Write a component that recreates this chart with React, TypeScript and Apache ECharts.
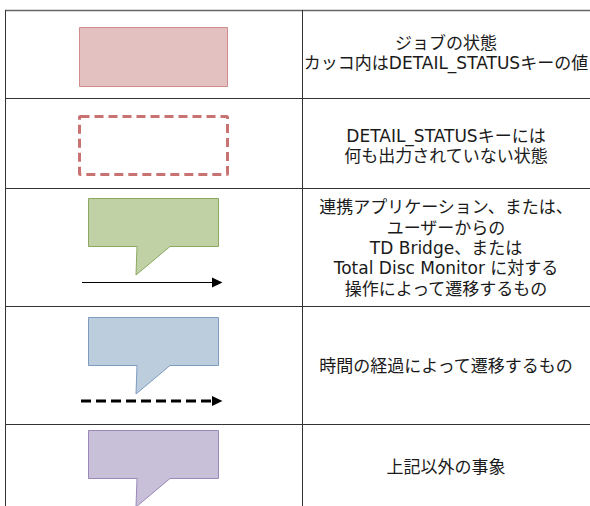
import React, { useEffect, useRef } from "react";
import * as echarts from "echarts";

const descriptions: string[][] = [
  ["ジョブの状態", "カッコ内はDETAIL_STATUSキーの値"],
  ["DETAIL_STATUSキーには", "何も出力されていない状態"],
  [
    "連携アプリケーション、または、",
    "ユーザーからの",
    "TD Bridge、または",
    "Total Disc Monitor に対する",
    "操作によって遷移するもの",
  ],
  ["時間の経過によって遷移するもの"],
  ["上記以外の事象"],
];
const rowLines = [10, 98, 188, 306, 424];
const textCenters = [53, 146, 248, 366, 467];
const calloutFills = ["#c0d1a5", "#bccddd", "#c8bfd8"];
const calloutStrokes = ["#8aa862", "#7d9cc0", "#9a88b8"];
const calloutTops = [198, 317, 430];

const FONT = '"DejaVu Sans", "Noto Sans CJK JP", sans-serif';

export default function App() {
  const ref = useRef<HTMLDivElement>(null);
  useEffect(() => {
    if (!ref.current) return;
    const chart = echarts.init(ref.current, null, { renderer: "svg" });
    const els: any[] = [];
    rowLines.forEach((y, i) => {
      els.push({
        type: "line",
        shape: { x1: 5, y1: y + 0.5, x2: 590, y2: y + 0.5 },
        style: { stroke: i === 0 ? "#666" : "#333", lineWidth: i === 0 ? 1.5 : 1 },
      });
    });
    [5, 302].forEach((x) => {
      els.push({
        type: "line",
        shape: { x1: x + 0.5, y1: 10, x2: x + 0.5, y2: 506 },
        style: { stroke: "#333", lineWidth: 1 },
      });
    });
    els.push({
      type: "rect",
      shape: { x: 79.5, y: 27.5, width: 148, height: 59 },
      style: { fill: "#e4c1c1", stroke: "#d08c8c", lineWidth: 1 },
    });
    els.push({
      type: "rect",
      shape: { x: 79.5, y: 116.5, width: 148, height: 58, r: 1 },
      style: { fill: "none", stroke: "#c87272", lineWidth: 3, lineDash: [9, 5] },
    });
    calloutTops.forEach((t, i) => {
      const b = t + 48;
      els.push({
        type: "polygon",
        shape: {
          points: [
            [88.5, t + 0.5],
            [218.5, t + 0.5],
            [218.5, b + 0.5],
            [170, b + 0.5],
            [136, b + 29],
            [137, b + 0.5],
            [88.5, b + 0.5],
          ],
        },
        style: { fill: calloutFills[i], stroke: calloutStrokes[i], lineWidth: 1 },
      });
    });
    els.push({
      type: "line",
      shape: { x1: 82, y1: 282.5, x2: 213, y2: 282.5 },
      style: { stroke: "#000", lineWidth: 1 },
    });
    els.push({
      type: "polygon",
      shape: { points: [[212, 277.5], [222.5, 282.5], [212, 287.5]] },
      style: { fill: "#000" },
    });
    els.push({
      type: "line",
      shape: { x1: 81, y1: 401, x2: 212, y2: 401 },
      style: { stroke: "#000", lineWidth: 3, lineDash: [10, 5] },
    });
    els.push({
      type: "polygon",
      shape: { points: [[212, 396], [222.5, 401], [212, 406]] },
      style: { fill: "#000" },
    });
    descriptions.forEach((lines, i) => {
      const lh = 20.3;
      const start = textCenters[i] - ((lines.length - 1) * lh) / 2;
      lines.forEach((s, j) => {
        els.push({
          type: "text",
          x: 446,
          y: start + j * lh,
          style: {
            text: s,
            font: `17px ${FONT}`,
            fill: "#1a1a1a",
            align: "center",
            verticalAlign: "middle",
          },
        });
      });
    });
    chart.setOption({ animation: false, graphic: { elements: els } });
    return () => chart.dispose();
  }, []);
  return (
    <div
      ref={ref}
      style={{ position: "fixed", left: 0, top: 0, width: 590, height: 506, background: "#fff" }}
    />
  );
}
